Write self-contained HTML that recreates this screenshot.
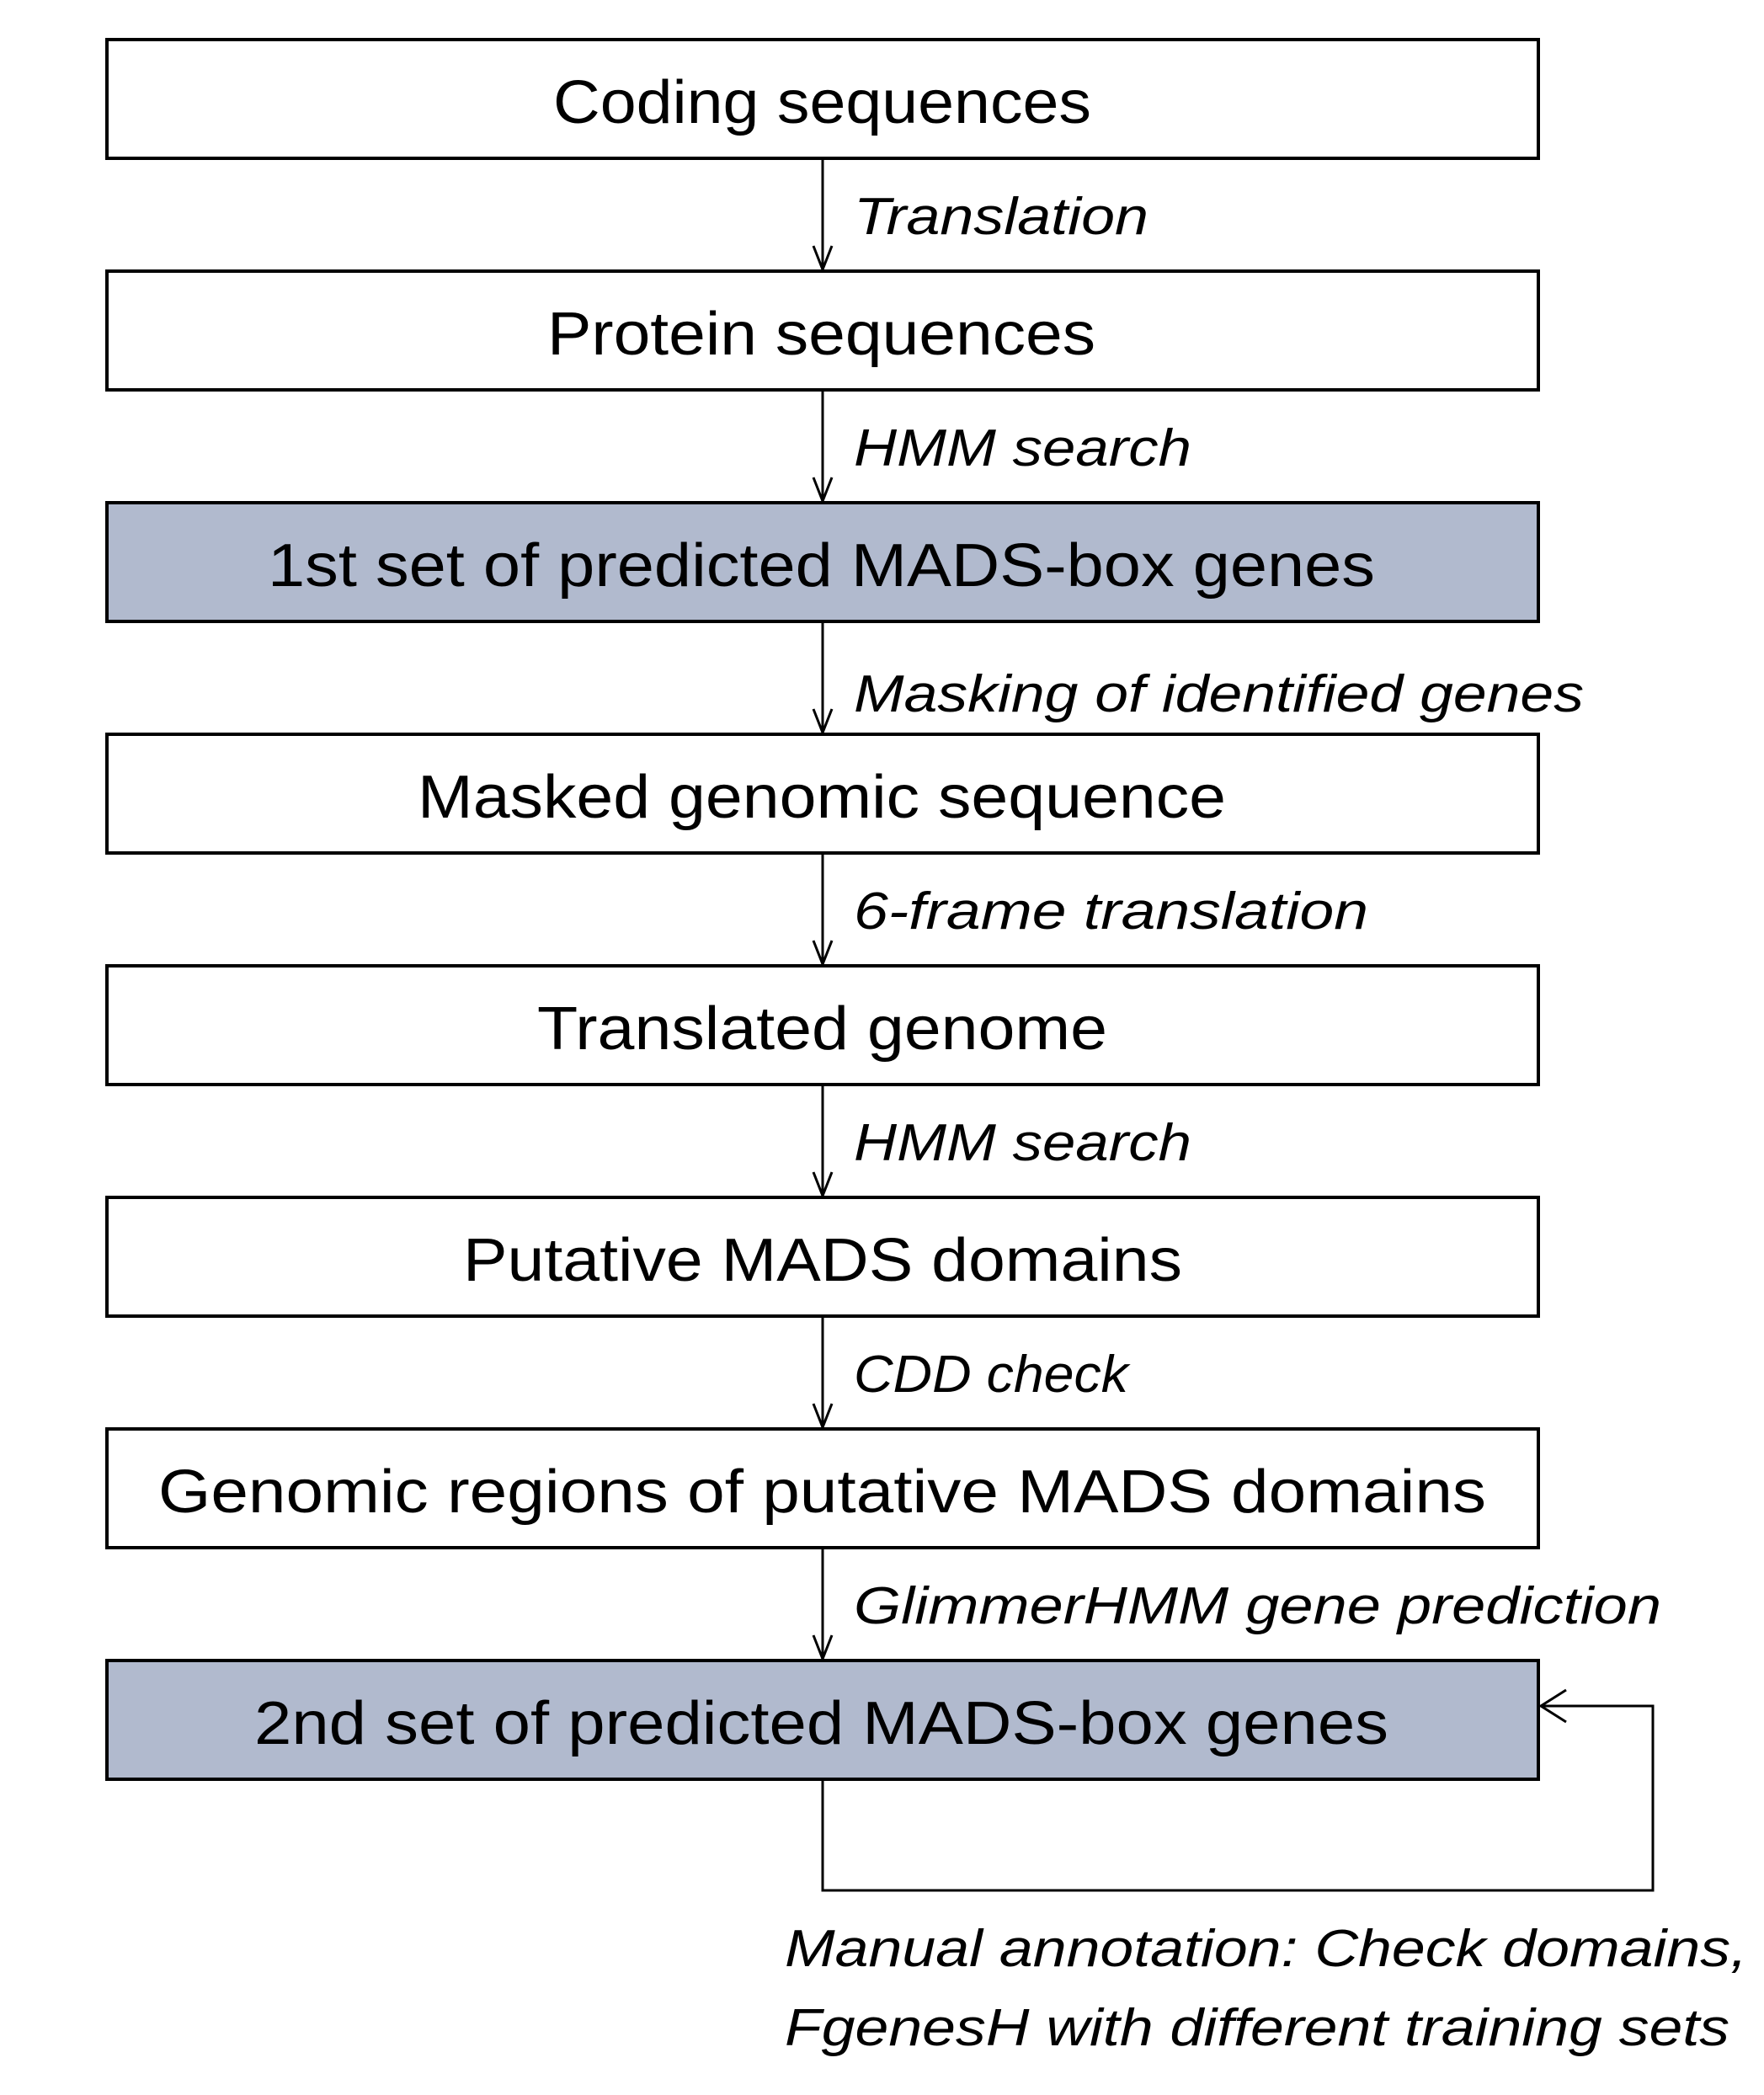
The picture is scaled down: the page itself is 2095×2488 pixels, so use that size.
<!DOCTYPE html>
<html><head><meta charset="utf-8"><style>html,body{margin:0;padding:0;background:#fff}svg{display:block}</style></head>
<body>
<svg width="2095" height="2488" viewBox="0 0 2095 2488" xmlns="http://www.w3.org/2000/svg" font-family="Liberation Sans, sans-serif">
<g stroke="#000" stroke-width="4">
<rect x="127" y="47" width="1700" height="141" fill="#fff"/>
<rect x="127" y="322" width="1700" height="141" fill="#fff"/>
<rect x="127" y="597" width="1700" height="141" fill="#b1bace"/>
<rect x="127" y="872" width="1700" height="141" fill="#fff"/>
<rect x="127" y="1147" width="1700" height="141" fill="#fff"/>
<rect x="127" y="1422" width="1700" height="141" fill="#fff"/>
<rect x="127" y="1697" width="1700" height="141" fill="#fff"/>
<rect x="127" y="1972" width="1700" height="141" fill="#b1bace"/>
</g>
<g stroke="#000" stroke-width="3" fill="none">
<path d="M977 190V320M966 292L977 320L988 292"/>
<path d="M977 465V595M966 567L977 595L988 567"/>
<path d="M977 740V870M966 842L977 870L988 842"/>
<path d="M977 1015V1145M966 1117L977 1145L988 1117"/>
<path d="M977 1290V1420M966 1392L977 1420L988 1392"/>
<path d="M977 1565V1695M966 1667L977 1695L988 1667"/>
<path d="M977 1840V1970M966 1942L977 1970L988 1942"/>
<path d="M977 2115V2245H1963V2026H1830M1860 2007L1830 2026L1860 2045"/>
</g>
<g font-size="72" text-anchor="start" fill="#000">
<text x="657" y="146" textLength="639" lengthAdjust="spacingAndGlyphs">Coding sequences</text>
<text x="650" y="421" textLength="651" lengthAdjust="spacingAndGlyphs">Protein sequences</text>
<text x="318" y="696" textLength="1315" lengthAdjust="spacingAndGlyphs">1st set of predicted MADS-box genes</text>
<text x="496" y="971" textLength="960" lengthAdjust="spacingAndGlyphs">Masked genomic sequence</text>
<text x="638" y="1246" textLength="677" lengthAdjust="spacingAndGlyphs">Translated genome</text>
<text x="550" y="1521" textLength="854" lengthAdjust="spacingAndGlyphs">Putative MADS domains</text>
<text x="188" y="1796" textLength="1577" lengthAdjust="spacingAndGlyphs">Genomic regions of putative MADS domains</text>
<text x="302" y="2071" textLength="1347" lengthAdjust="spacingAndGlyphs">2nd set of predicted MADS-box genes</text>
</g>
<g font-size="62" font-style="italic" fill="#000">
<text x="1014" y="278" textLength="350" lengthAdjust="spacingAndGlyphs">Translation</text>
<text x="1014" y="553" textLength="401" lengthAdjust="spacingAndGlyphs">HMM search</text>
<text x="1014" y="845" textLength="867" lengthAdjust="spacingAndGlyphs">Masking of identified genes</text>
<text x="1014" y="1103" textLength="611" lengthAdjust="spacingAndGlyphs">6-frame translation</text>
<text x="1014" y="1378" textLength="401" lengthAdjust="spacingAndGlyphs">HMM search</text>
<text x="1014" y="1653" textLength="326" lengthAdjust="spacingAndGlyphs">CDD check</text>
<text x="1014" y="1928" textLength="959" lengthAdjust="spacingAndGlyphs">GlimmerHMM gene prediction</text>
<text x="932" y="2335" textLength="1143" lengthAdjust="spacingAndGlyphs">Manual annotation: Check domains,</text>
<text x="932" y="2429" textLength="1122" lengthAdjust="spacingAndGlyphs">FgenesH with different training sets</text>
</g>
</svg>
</body></html>
